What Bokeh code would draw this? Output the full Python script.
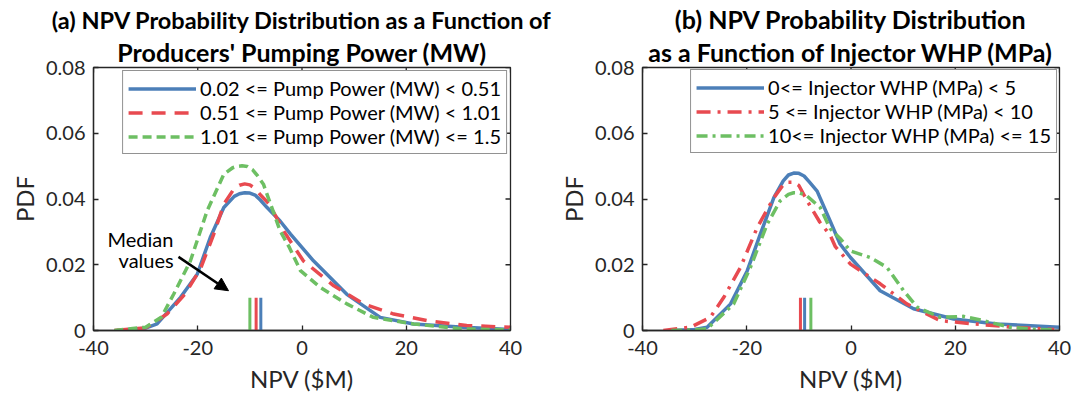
import math
from bokeh.plotting import figure
from bokeh.layouts import row
from bokeh.models import (FixedTicker, Title, Label, Arrow, NormalHead,
                          Legend, LegendItem, Range1d)
from bokeh.embed import file_html
from bokeh.resources import INLINE

FONT = "Lato"
TXT = "#262626"
BLUE = "#4C7FB8"
RED = "#E84A50"
GREEN = "#6DBF63"

X_TICKS = [-40, -20, 0, 20, 40]
X_LABELS = ["-40", "-20", "0", "20", "40"]
Y_TICKS = [0, 0.02, 0.04, 0.06, 0.08]
Y_LABELS = ["0", "0.02", "0.04", "0.06", "0.08"]

# ---------------- (a) pumping power ----------------
A_TITLE1 = "(a) NPV Probability Distribution as a Function of"
A_TITLE2 = "Producers' Pumping Power (MW)"
A_LABELS = ["0.02 <= Pump Power (MW) < 0.51",
            "0.51 <= Pump Power (MW) < 1.01",
            "1.01 <= Pump Power (MW) <= 1.5"]

a_blue_x = [-35.5, -30, -27.8, -23.3, -20.1, -17.6, -15.0, -13.0, -12.0, -11.0, -10.0,
            -9.0, -8.0, -6.7, -4.2, -2.2, 2.2, 8.6, 15.0, 21.4, 31.0, 40]
a_blue_y = [0, 0.0007, 0.002, 0.0101, 0.0171, 0.0283, 0.0374, 0.0408, 0.0416, 0.0419,
            0.0418, 0.0412, 0.0397, 0.0374, 0.0333, 0.0293, 0.0212, 0.011, 0.004, 0.002,
            0.001, 0.0003]

a_red_x = [-36, -30, -25.9, -22.5, -19.5, -17.0, -15.0, -13.0, -12.0, -11.0, -10.0,
           -9.0, -8.0, -6.3, -3.4, 0.25, 6.1, 11.8, 17.6, 24.0, 31.6, 40]
a_red_y = [0, 0.0008, 0.005, 0.011, 0.0187, 0.029, 0.0384, 0.0432, 0.0442, 0.0446,
           0.0443, 0.0432, 0.0413, 0.0385, 0.030, 0.0212, 0.0136, 0.0081, 0.005, 0.003,
           0.0015, 0.001]

a_green_x = [-36, -30, -27, -24.6, -21.4, -18.2, -15.0, -13.3, -12.5, -11.5, -10.5,
             -9.5, -8.5, -7.4, -5.7, -4.2, -2.4, -0.3, 3.5, 8.6, 13.7, 21.4, 30.4, 40]
a_green_y = [0, 0.001, 0.004, 0.0111, 0.0212, 0.0364, 0.0475, 0.0495, 0.0499, 0.0501,
             0.0499, 0.0489, 0.047, 0.0445, 0.037, 0.0303, 0.0252, 0.0182, 0.0131,
             0.0081, 0.004, 0.002, 0.0005, 0.0002]

a_medians = [-7.9, -8.8, -10.0]   # blue, red, green

# ---------------- (b) injector WHP ----------------
B_TITLE1 = "(b) NPV Probability Distribution"
B_TITLE2 = "as a Function of Injector WHP (MPa)"
B_LABELS = ["0<= Injector WHP (MPa) < 5",
            "5 <= Injector WHP (MPa) < 10",
            "10<= Injector WHP (MPa) <= 15"]

b_blue_x = [-34.5, -30, -27.6, -23.1, -19.9, -17.4, -14.8, -13.0, -12.0, -11.0, -10.0,
            -9.0, -8.0, -6.5, -4.0, -2.1, -0.1, 5.6, 12.0, 19.7, 28.0, 40]
b_blue_y = [0, 0.0003, 0.001, 0.0081, 0.0182, 0.0293, 0.0404, 0.0455, 0.0473, 0.0479,
            0.0478, 0.047, 0.0452, 0.0424, 0.0333, 0.0263, 0.0222, 0.0121, 0.0066,
            0.0035, 0.002, 0.001]

b_red_x = [-36, -30.8, -27, -24.4, -21.2, -18.0, -14.8, -13.0, -12.0, -11.0, -10.0,
           -8.4, -6.0, -4.0, -3.0, -0.1, 5.6, 10.7, 17.1, 23.5, 31.2, 39]
b_red_y = [0, 0.001, 0.004, 0.0101, 0.0192, 0.0313, 0.0404, 0.0443, 0.0451, 0.0451,
           0.0441, 0.0394, 0.033, 0.029, 0.0255, 0.0202, 0.0142, 0.0081, 0.003, 0.002,
           0.001, 0.0003]

b_green_x = [-34.5, -30, -27.6, -22.5, -19.3, -16.1, -13.6, -12.0, -11.0, -10.0, -8.5,
             -5.9, -4.0, -2.1, -0.1, 3.7, 6.9, 10.1, 12.7, 17.1, 21.6, 25.4, 30.5,
             35.7, 39]
b_green_y = [0, 0.0002, 0.0005, 0.0081, 0.0192, 0.0323, 0.0394, 0.0414, 0.0419,
             0.0419, 0.041, 0.0374, 0.031, 0.028, 0.0242, 0.0222, 0.0192, 0.0121,
             0.0071, 0.004, 0.0043, 0.003, 0.001, 0.0003, 0.0002]

b_medians = [-8.9, -9.7, -7.7]   # blue, red, green

MEDIAN_TOP = 0.01

# annotation placement (panel a)
NOTE_LINE1 = ("Median", -31.0, 0.0279)
NOTE_LINE2 = ("values", -29.9, 0.0215)
ARROW_FROM = (-23.7, 0.0224)
ARROW_TO = (-14.1, 0.0121)


def make_fig(width, bl, br, t1, t2, t1_size):
    p = figure(width=width, height=401, x_range=Range1d(-40, 40), y_range=Range1d(0, 0.08),
               output_backend="svg", toolbar_location=None,
               min_border_left=bl, min_border_right=br, min_border_top=67,
               min_border_bottom=71, title=t1)
    p.title.text_font = FONT
    p.title.text_font_size = t1_size
    p.title.text_font_style = "bold"
    p.title.align = "center"
    p.title.text_color = "black"
    p.title.standoff = 0
    p.add_layout(Title(text=t2, text_font=FONT, text_font_size="25px", text_font_style="bold",
                       align="center", text_color="black", standoff=2), "above")
    p.grid.visible = False
    p.outline_line_color = TXT
    p.outline_line_width = 1.3
    p.background_fill_color = "white"

    for ax in p.xaxis:
        ax.ticker = FixedTicker(ticks=X_TICKS)
        ax.major_label_overrides = {t: l for t, l in zip(X_TICKS, X_LABELS)}
        ax.axis_label = "NPV ($M)"
        ax.major_label_standoff = 10
        ax.axis_label_standoff = 6
    for ax in p.yaxis:
        ax.ticker = FixedTicker(ticks=Y_TICKS)
        ax.major_label_overrides = {t: l for t, l in zip(Y_TICKS, Y_LABELS)}
        ax.axis_label = "PDF"
        ax.major_label_standoff = 8
        ax.axis_label_standoff = 4
    for ax in list(p.xaxis) + list(p.yaxis):
        ax.major_label_text_font = FONT
        ax.major_label_text_font_size = "20px"
        ax.major_label_text_color = TXT
        ax.axis_label_text_font = FONT
        ax.axis_label_text_font_size = "24px"
        ax.axis_label_text_font_style = "normal"
        ax.axis_label_text_color = TXT
        ax.major_tick_in = 5
        ax.major_tick_out = 0
        ax.minor_tick_in = 0
        ax.minor_tick_out = 0
        ax.axis_line_color = TXT
        ax.axis_line_width = 1.3
        ax.major_tick_line_color = TXT
        ax.major_tick_line_width = 1.3

    # inward ticks on the top and right edges of the box (half of each dash is clipped)
    p.scatter(x=X_TICKS, y=[0.08] * len(X_TICKS), marker="dash", size=10,
              angle=math.pi / 2, line_color=TXT, line_width=1.3)
    p.scatter(x=[40] * len(Y_TICKS), y=Y_TICKS, marker="dash", size=10,
              line_color=TXT, line_width=1.3)
    return p


def add_legend(p, renderers, labels, margin):
    leg = Legend(items=[LegendItem(label=l, renderers=[r]) for l, r in zip(labels, renderers)],
                 location="top_right", margin=margin, padding=5, spacing=0,
                 glyph_width=68, glyph_height=23, label_standoff=4,
                 label_text_font=FONT, label_text_font_size="20px", label_text_color="black",
                 label_height=23, border_line_color=TXT, border_line_width=1.2,
                 background_fill_color="white", background_fill_alpha=1.0)
    p.add_layout(leg)


LW = 3.5

# panel a
pa = make_fig(555, 93, 45, A_TITLE1, A_TITLE2, "23.5px")
ra1 = pa.line(a_blue_x, a_blue_y, line_color=BLUE, line_width=LW, line_join="round")
ra2 = pa.line(a_red_x, a_red_y, line_color=RED, line_width=LW, line_dash="14 9")
ra3 = pa.line(a_green_x, a_green_y, line_color=GREEN, line_width=LW, line_dash="9 5")
for m, c in zip(a_medians, [BLUE, RED, GREEN]):
    pa.segment(x0=[m], y0=[0], x1=[m], y1=[MEDIAN_TOP], line_color=c, line_width=3)
add_legend(pa, [ra1, ra2, ra3], A_LABELS, 3)
for txt, x, y in [NOTE_LINE1, NOTE_LINE2]:
    pa.add_layout(Label(x=x, y=y, text=txt, text_align="center", text_baseline="middle",
                        text_font=FONT, text_font_size="20px", text_color="black"))
pa.add_layout(Arrow(end=NormalHead(size=13, fill_color="black", line_color="black"),
                    x_start=ARROW_FROM[0], y_start=ARROW_FROM[1],
                    x_end=ARROW_TO[0], y_end=ARROW_TO[1],
                    line_color="black", line_width=2.5))

# panel b
pb = make_fig(520, 87, 16, B_TITLE1, B_TITLE2, "25px")
rb1 = pb.line(b_blue_x, b_blue_y, line_color=BLUE, line_width=LW, line_join="round")
rb2 = pb.line(b_red_x, b_red_y, line_color=RED, line_width=LW, line_dash="14 7 3 7")
rb3 = pb.line(b_green_x, b_green_y, line_color=GREEN, line_width=LW, line_dash="11 5 3 5")
for m, c in zip(b_medians, [BLUE, RED, GREEN]):
    pb.segment(x0=[m], y0=[0], x1=[m], y1=[MEDIAN_TOP], line_color=c, line_width=3)
add_legend(pb, [rb1, rb2, rb3], B_LABELS, 2)

layout = row(pa, pb)
open("out.html", "w").write(file_html(layout, INLINE))
